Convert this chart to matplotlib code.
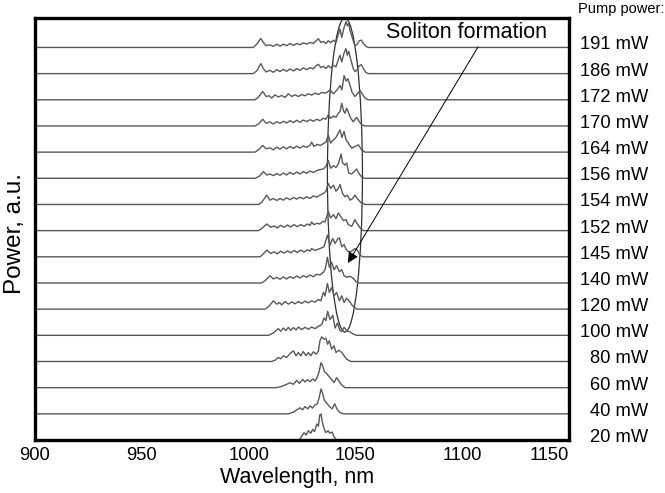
import numpy as np
import matplotlib
matplotlib.use("Agg")
import matplotlib.pyplot as plt
from matplotlib.patches import Ellipse

plt.rcParams['font.family'] = ['Liberation Sans', 'DejaVu Sans']

# Spectra: wavelength (nm) and power above each trace's baseline (a.u.)
wl_top = [1002.2, 1003.8, 1005.7, 1006.9, 1008.2, 1010.0, 1011.6, 1013.2, 1014.7, 1016.3,
          1017.8, 1019.4, 1021.0, 1022.5, 1024.1, 1025.6, 1027.2, 1028.8, 1030.3, 1031.6,
          1032.7, 1033.8, 1035.0, 1036.2, 1037.3, 1038.4, 1039.7, 1040.9, 1042.0, 1042.8,
          1043.6, 1044.7, 1045.6, 1046.2, 1046.9, 1047.5, 1048.3, 1049.0, 1049.8, 1050.9,
          1051.8, 1052.8, 1053.7, 1055.0, 1056.1]
h_191 = [0, 3.3, 9, 5, 1.7, 2.7, 1, 3.3, 1.3, 3.3, 1.7, 4, 2, 4, 2.7, 4.7, 3.3, 5, 4, 6.7,
         8.7, 5, 6, 4, 6.7, 4.7, 7.3, 4.7, 13.3, 18.3, 10, 20, 26, 21.7, 24, 16.7, 11.7, 6.7,
         1.7, 3.3, 6.7, 7.3, 4, 1, 0]
h_186 = [0, 2.7, 10, 5, 1.7, 3.3, 1.3, 4, 2, 4.3, 2.3, 4.7, 2.7, 5, 3.3, 5.7, 4, 6, 4.7, 8,
         9.3, 6, 7.3, 5, 8, 5.7, 8.3, 6.7, 14, 18.3, 11.7, 20.7, 25, 18.3, 22.3, 16.7, 10.7,
         5, 2, 4, 8, 9, 5, 1, 0]

wl_172 = [1003.0, 1004.6, 1006.6, 1008.2, 1009.7, 1010.8, 1012.4, 1013.9, 1015.5, 1017.1,
          1018.6, 1020.2, 1021.7, 1023.3, 1024.9, 1026.4, 1028.0, 1029.5, 1031.1, 1032.7,
          1034.2, 1035.8, 1037.3, 1038.1, 1039.7, 1041.2, 1042.8, 1043.7, 1044.7, 1045.6,
          1046.5, 1047.5, 1048.4, 1049.8, 1050.9, 1052.2, 1053.4, 1054.7, 1056.1]
h_172 = [0, 2.7, 8.3, 3.3, 4, 1.7, 5, 2.7, 4.3, 2.3, 6, 3.3, 5, 3.3, 5.3, 4, 6, 4.7, 6.7, 5.3,
         7.3, 6.7, 8.3, 10, 6, 9.3, 14.3, 10, 24.3, 18.7, 21, 14.3, 7.7, 3.3, 6, 9.3, 5.3, 1.3, 0]

wl_170 = [1003.0, 1004.6, 1006.6, 1008.2, 1010.0, 1011.6, 1013.2, 1014.7, 1016.3, 1017.8,
          1019.4, 1021.0, 1022.5, 1024.1, 1025.6, 1027.2, 1028.8, 1030.3, 1031.9, 1033.4,
          1035.0, 1036.2, 1037.3, 1038.4, 1039.7, 1040.9, 1042.0, 1042.8, 1043.6, 1044.4,
          1045.1, 1045.9, 1046.9, 1047.8, 1049.0, 1050.6, 1051.8, 1053.1, 1054.5]
h_170 = [0, 2, 6.7, 2.7, 4, 2, 4.3, 2.7, 4.7, 3, 5.3, 3.3, 5.7, 3.7, 6, 4.3, 6.3, 4.7, 6.7, 5.3,
         7.7, 6.7, 11, 7.7, 10, 8.7, 12.7, 14.3, 22.7, 15.3, 12.7, 17.7, 12.7, 7.7, 4.3, 8.7,
         4.3, 1, 0]

wl_164 = [1003.0, 1004.6, 1006.6, 1008.2, 1010.0, 1011.6, 1013.2, 1014.7, 1016.3, 1017.8,
          1019.4, 1021.0, 1022.5, 1024.1, 1025.6, 1027.2, 1028.8, 1029.5, 1030.6, 1032.2,
          1033.8, 1035.3, 1036.2, 1037.3, 1038.4, 1039.7, 1040.9, 1042.0, 1042.8, 1043.7,
          1044.7, 1045.6, 1046.7, 1048.3, 1049.8, 1051.4, 1052.9, 1054.5]
h_164 = [0, 2.3, 6.7, 3.3, 4.3, 2.3, 5, 3, 5.3, 3.3, 5.7, 3.7, 6, 4, 6.3, 4.7, 7, 10, 5.7, 7.7,
         6.7, 9, 10, 17.3, 9, 12.3, 14.7, 19, 22.3, 14.7, 20.7, 12.3, 9, 4, 5.7, 7.3, 2.3, 0]

wl_156 = [1003.0, 1005.0, 1006.9, 1008.5, 1010.0, 1011.6, 1013.2, 1014.7, 1016.3, 1017.8,
          1019.4, 1021.0, 1022.5, 1024.1, 1025.6, 1027.2, 1028.8, 1030.3, 1031.9, 1033.4,
          1035.0, 1036.2, 1037.3, 1038.4, 1039.7, 1040.9, 1042.0, 1043.3, 1044.0, 1045.1,
          1045.9, 1046.9, 1048.3, 1049.8, 1050.6, 1051.8, 1053.1, 1054.5]
h_156 = [0, 2, 6.7, 3.3, 4.3, 2.7, 4.7, 3, 5.3, 3.3, 6, 4, 6.3, 4.3, 6.7, 5, 7.3, 5.7, 7.7, 8.7,
         9.3, 12, 17.7, 10, 12.7, 10.7, 14.3, 24.3, 15.3, 13.3, 15.3, 5.3, 4.3, 7.7, 9.3, 4.3, 1, 0]

wl_154 = [1004.6, 1006.1, 1008.5, 1010.0, 1011.6, 1013.2, 1014.7, 1016.3, 1017.8, 1019.4,
          1021.0, 1022.5, 1024.1, 1025.6, 1027.2, 1028.8, 1030.3, 1031.9, 1033.4, 1035.0,
          1036.2, 1037.3, 1038.4, 1039.7, 1040.9, 1042.0, 1042.8, 1044.0, 1045.1, 1046.2,
          1047.5, 1048.7, 1049.8, 1050.9, 1052.5, 1054.5]
h_154 = [0, 2, 9.3, 4.3, 6, 4, 6, 4.3, 6.7, 4.7, 7, 5.3, 7.3, 5.7, 7.7, 6, 8.7, 7.3, 9.3, 11,
         13.3, 21, 16, 19.3, 13.3, 16, 20, 11, 7.7, 9.3, 4.3, 6, 9.3, 6, 2, 0]

wl_152 = [1004.6, 1006.1, 1008.5, 1010.4, 1011.9, 1013.5, 1015.0, 1016.6, 1018.2, 1019.7,
          1021.3, 1022.8, 1024.4, 1026.0, 1027.5, 1028.8, 1029.5, 1030.6, 1031.9, 1033.4,
          1034.7, 1035.8, 1037.3, 1038.4, 1039.7, 1040.9, 1042.0, 1043.1, 1044.4, 1045.6,
          1046.7, 1048.3, 1049.8, 1050.9, 1052.2, 1053.7]
h_152 = [0, 2, 6.7, 3.3, 4.7, 2.7, 5.3, 3.3, 5.7, 3.7, 6, 4, 6, 4.3, 6.7, 5.3, 8.7, 6, 7.3, 6.7,
         9.3, 8.7, 19.3, 12.7, 16, 12, 17.7, 14.3, 10, 11, 6, 4.3, 11, 6.7, 2.7, 0]

wl_145 = [1005.4, 1006.6, 1008.5, 1010.4, 1011.9, 1013.5, 1015.0, 1016.6, 1018.2, 1019.7,
          1021.3, 1022.8, 1024.4, 1026.0, 1027.5, 1028.8, 1029.5, 1031.1, 1032.7, 1034.2,
          1035.3, 1036.9, 1038.1, 1039.4, 1040.5, 1041.6, 1042.5, 1043.6, 1044.7, 1045.6,
          1046.7, 1048.3, 1049.8, 1050.9, 1052.2, 1053.4]
h_145 = [0, 2.3, 6.7, 3.3, 5, 3, 5.7, 3.7, 6, 4, 6.3, 4.3, 6.7, 4.7, 7, 5.7, 8.3, 6.3, 7.7, 9,
         10, 21.7, 11.7, 18.3, 13.3, 17.7, 19, 10, 12.3, 7.7, 5, 5.7, 8.3, 6.7, 1.7, 0]

wl_140 = [1006.1, 1007.7, 1010.0, 1011.6, 1013.2, 1014.7, 1016.3, 1017.8, 1019.4, 1021.0,
          1022.5, 1024.1, 1025.6, 1027.2, 1028.8, 1030.3, 1031.9, 1033.4, 1035.0, 1035.9,
          1036.9, 1037.8, 1038.9, 1040.0, 1041.2, 1042.5, 1043.6, 1044.7, 1045.9, 1047.5,
          1049.0, 1050.3, 1051.4]
h_140 = [0, 2.3, 7.3, 4, 5.7, 3.7, 6, 4, 6.3, 4.7, 7, 5, 7.3, 5.7, 8, 6.3, 8.7, 8, 10.7, 14,
         25.7, 15.7, 20.7, 13.3, 17.3, 11.3, 13.3, 7.3, 5.7, 6.7, 4.7, 1.3, 0]

wl_120 = [1007.7, 1009.3, 1011.6, 1013.2, 1014.4, 1015.5, 1017.1, 1018.6, 1020.2, 1021.7,
          1023.3, 1024.9, 1026.4, 1028.0, 1029.5, 1031.1, 1032.7, 1033.8, 1035.0, 1035.8,
          1036.9, 1037.8, 1038.9, 1040.0, 1041.2, 1042.5, 1043.6, 1044.7, 1045.9, 1047.2,
          1048.7, 1050.6]
h_120 = [0, 2.3, 8.3, 5, 6.7, 4.3, 7.7, 5, 7.3, 5.3, 7.7, 5.7, 8, 6.3, 8.3, 7, 9.7, 8.3, 16.7,
         13.3, 25.7, 16.7, 21.7, 13.3, 16.7, 8.3, 13.3, 6.7, 11, 7.7, 3.3, 0]

wl_100 = [1009.3, 1011.6, 1013.9, 1015.0, 1016.3, 1017.5, 1018.6, 1019.7, 1021.0, 1022.2,
          1023.3, 1024.9, 1026.4, 1028.0, 1029.5, 1031.1, 1032.7, 1034.2, 1035.3, 1036.2,
          1037.0, 1038.1, 1039.4, 1040.5, 1041.6, 1042.8, 1043.7, 1044.7, 1045.9, 1047.5,
          1049.0, 1050.6]
h_100 = [0, 2.3, 6.7, 4, 7.3, 4.7, 8, 5, 7.7, 5.3, 8.3, 5.7, 8, 6, 8.3, 6.7, 9, 10.7, 17.3,
         14.7, 24, 15.7, 20, 7.3, 12.3, 4.7, 4, 8, 4.7, 3.3, 1.3, 0]

wl_80 = [1010.8, 1012.4, 1013.9, 1015.0, 1016.3, 1017.8, 1019.4, 1021.0, 1022.2, 1023.3,
         1024.5, 1025.6, 1026.9, 1028.0, 1029.1, 1030.3, 1031.6, 1032.7, 1033.4, 1034.2,
         1035.3, 1036.2, 1037.0, 1037.8, 1038.9, 1040.0, 1040.9, 1042.2, 1043.6, 1044.7,
         1045.9, 1047.8]
h_80 = [0, 1.3, 4, 2.7, 5.7, 4, 8, 10.7, 5.7, 9, 5.7, 10, 5.7, 9, 5.7, 9.7, 7.3, 10.7, 20.7,
        24.7, 22.3, 23.3, 17.3, 20.7, 12.3, 15.7, 9, 11.3, 9, 5.7, 2.3, 0]

wl_60 = [1013.2, 1015.5, 1017.8, 1019.4, 1021.0, 1022.5, 1023.8, 1025.3, 1026.4, 1027.5,
         1028.8, 1030.0, 1031.1, 1032.2, 1033.1, 1033.9, 1034.7, 1035.5, 1036.6, 1037.8,
         1038.9, 1040.0, 1041.2, 1042.5, 1043.6, 1045.1]
h_60 = [0, 1.3, 3.3, 5, 3.3, 7.3, 4.3, 8.3, 5.7, 8, 6, 8.7, 6.7, 10.7, 16.7, 25, 21.7, 16, 14,
        10.7, 8.3, 5, 10, 6, 2.7, 0]

wl_40 = [1018.6, 1021.0, 1022.5, 1024.1, 1025.3, 1026.4, 1027.7, 1028.8, 1030.0, 1031.1,
         1032.2, 1033.1, 1033.9, 1034.7, 1035.5, 1036.6, 1037.8, 1039.1, 1040.3, 1041.6,
         1042.8, 1044.4]
h_40 = [0, 1.7, 4, 6, 4, 7.3, 5, 8, 5.7, 9, 10, 16.7, 25, 20, 13.3, 10.7, 7.3, 5, 10, 4, 1.3, 0]

wl_20 = [1023.8, 1024.9, 1026.0, 1026.9, 1028.0, 1029.1, 1030.0, 1030.9, 1031.9, 1032.7,
         1033.3, 1033.9, 1034.5, 1035.3, 1036.2, 1037.2, 1038.1, 1039.1, 1040.0, 1041.2]
h_20 = [0, 4, 7.3, 5, 9.3, 6.7, 10.7, 8.3, 16, 14, 25, 26, 18.3, 11.7, 7.3, 9.3, 6.7, 8, 3.3, 0]

pump_mw = [20, 40, 60, 80, 100, 120, 140, 145, 152, 154, 156, 164, 170, 172, 186, 191]
spectra = [(wl_20, h_20), (wl_40, h_40), (wl_60, h_60), (wl_80, h_80),
           (wl_100, h_100), (wl_120, h_120), (wl_140, h_140), (wl_145, h_145),
           (wl_152, h_152), (wl_154, h_154), (wl_156, h_156), (wl_164, h_164),
           (wl_170, h_170), (wl_172, h_172), (wl_top, h_186), (wl_top, h_191)]

x_ticks = [900, 950, 1000, 1050, 1100, 1150]

offset = 26.17          # vertical shift between successive spectra
W, H = 665, 493

fig = plt.figure(figsize=(W / 100, H / 100), dpi=100)
ax = fig.add_axes([35 / W, 53 / H, 534 / W, 422 / H])

label_tf = ax.get_yaxis_transform()
for i, (p, (wl, h)) in enumerate(zip(pump_mw, spectra)):
    x = np.concatenate([[900.0], wl, [1150.0]])
    y = np.concatenate([[0.0], h, [0.0]]) + i * offset
    ax.plot(x, y, color='#585858', lw=1.0, solid_joinstyle='round')
    ax.text(1.148, i * offset + 2.5, f'{p} mW', transform=label_tf,
            ha='right', va='center', fontsize=13.2, clip_on=False)

ax.set_xlim(900, 1150)
ax.set_ylim(0, 422)
ax.set_xticks(x_ticks)
ax.set_xticklabels([str(t) for t in x_ticks])
ax.set_yticks([])
ax.tick_params(axis='x', length=0, pad=5, labelsize=13.2)
ax.get_xticklabels()[-1].set_ha('right')
for s in ax.spines.values():
    s.set_linewidth(2.4)
    s.set_color('black')

# Region where solitons form
ax.add_patch(Ellipse((1045.1, 265), width=16.4, height=314, fill=False,
                     edgecolor='#303030', lw=0.9))
ax.annotate('', xy=(1046.5, 177), xytext=(1107.4, 393),
            arrowprops=dict(arrowstyle='-|>', color='black', lw=0.7,
                            mutation_scale=16, shrinkA=0, shrinkB=0))
ax.text(1102.2, 407, 'Soliton formation', ha='center', va='center', fontsize=15.5)

fig.text(578 / W, 1 - 9 / H, 'Pump power:', ha='left', va='center', fontsize=10.5)
fig.text(297 / W, 1 - 478 / H, 'Wavelength, nm', ha='center', va='center', fontsize=15.5)
fig.text(15 / W, 1 - 234 / H, 'Power, a.u.', ha='center', va='center',
         rotation=90, fontsize=17.5)

fig.savefig('out.png', dpi=100)
